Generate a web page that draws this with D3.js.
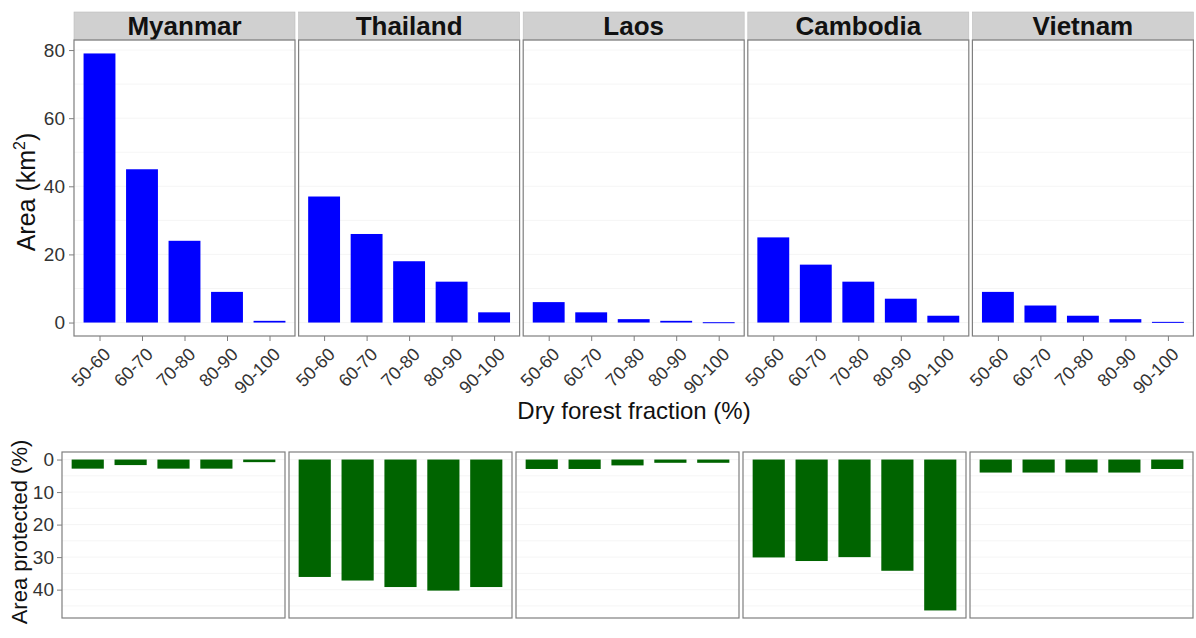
<!DOCTYPE html>
<html>
<head>
<meta charset="utf-8">
<script src="https://cdn.jsdelivr.net/npm/d3@7"></script>
<style>
  body { margin: 0; background: #fff; }
  text { font-family: Arial, "Liberation Sans", sans-serif; }
</style>
</head>
<body>
<div id="chart"></div>
<script>
const countries = ['Myanmar', 'Thailand', 'Laos', 'Cambodia', 'Vietnam'];
const fractions = ['50-60', '60-70', '70-80', '80-90', '90-100'];

// area (km2) per country, by dry forest fraction class
const areaMyanmar = [79, 45, 24, 9, 0.5];
const areaThailand = [37, 26, 18, 12, 3];
const areaLaos = [6, 3, 1, 0.5, 0.1];
const areaCambodia = [25, 17, 12, 7, 2];
const areaVietnam = [9, 5, 2, 1, 0.2];

// share of area protected (%)
const protMyanmar = [2.8, 1.7, 2.8, 2.8, 0.8];
const protThailand = [36.1, 37.2, 39.2, 40.3, 39.2];
const protLaos = [2.9, 2.9, 1.8, 1.0, 1.0];
const protCambodia = [30.1, 31.2, 30, 34.2, 46.4];
const protVietnam = [4, 4, 4, 4, 2.9];

const areaTicks = [0, 20, 40, 60, 80];
const protTicks = [0, 10, 20, 30, 40];

const areaData = [areaMyanmar, areaThailand, areaLaos, areaCambodia, areaVietnam];
const protData = [protMyanmar, protThailand, protLaos, protCambodia, protVietnam];

const W = 1196, H = 638;
const cfg = {
  top: { left: 74, panelW: 221, gap: 3.6, y0: 40, y1: 336, stripTop: 12 },
  bottom: { left: 62, panelW: 223, gap: 4, y0: 452, y1: 618 },
  blue: '#0000ff',
  green: '#006400',
  border: '#7f7f7f',
  grid: '#f2f2f2',
  tick: '#333333',
};

const svg = d3.select('#chart').append('svg').attr('width', W).attr('height', H);

function bandScale(x0, w) {
  // ggplot discrete axis: 0.6 expansion on each side, bar width 0.75
  const unit = w / (fractions.length + 0.2);
  return d3.scalePoint().domain(fractions).range([x0 + 0.6 * unit, x0 + w - 0.6 * unit]);
}

// ---------- top row ----------
const yMaxTop = d3.max(areaData.flat());
const yTop = d3.scaleLinear()
  .domain([-0.05 * yMaxTop, yMaxTop * 1.05])
  .range([cfg.top.y1, cfg.top.y0]);

countries.forEach((c, i) => {
  const x0 = cfg.top.left + i * (cfg.top.panelW + cfg.top.gap);
  const w = cfg.top.panelW;
  const x = bandScale(x0, w);
  const unit = w / (fractions.length + 0.2);
  const bw = 0.75 * unit;
  const g = svg.append('g');

  // strip
  g.append('rect').attr('x', x0).attr('y', cfg.top.stripTop)
    .attr('width', w).attr('height', cfg.top.y0 - cfg.top.stripTop)
    .attr('fill', '#d0d0d0').attr('stroke', '#bdbdbd').attr('stroke-width', 0.6);
  g.append('text').attr('x', x0 + w / 2).attr('y', cfg.top.y0 - 5)
    .attr('text-anchor', 'middle').attr('font-size', 26).attr('font-weight', 'bold')
    .attr('fill', '#111').text(c);

  // faint grid
  const gridVals = d3.range(0, 81, 10);
  g.selectAll('line.grid').data(gridVals).join('line')
    .attr('x1', x0).attr('x2', x0 + w)
    .attr('y1', (d) => yTop(d)).attr('y2', (d) => yTop(d))
    .attr('stroke', cfg.grid).attr('stroke-width', 0.8);

  g.selectAll('rect.bar').data(areaData[i]).join('rect')
    .attr('x', (d, j) => x(fractions[j]) - bw / 2)
    .attr('width', bw)
    .attr('y', (d) => yTop(d))
    .attr('height', (d) => Math.max(yTop(0) - yTop(d), 1))
    .attr('fill', cfg.blue);

  g.append('rect').attr('x', x0).attr('y', cfg.top.y0)
    .attr('width', w).attr('height', cfg.top.y1 - cfg.top.y0)
    .attr('fill', 'none').attr('stroke', cfg.border).attr('stroke-width', 1.2);

  // x axis
  const xa = g.append('g').attr('transform', `translate(0,${cfg.top.y1})`)
    .call(d3.axisBottom(x).tickSize(5).tickPadding(4));
  xa.select('.domain').remove();
  xa.selectAll('line').attr('stroke', cfg.border);
  xa.selectAll('text')
    .attr('font-size', 18).attr('fill', cfg.tick)
    .attr('text-anchor', 'end')
    .attr('x', 0).attr('y', 0)
    .attr('dy', '0.35em')
    .attr('transform', 'translate(7,15) rotate(-45)');

  if (i === 0) {
    const ya = g.append('g').attr('transform', `translate(${x0},0)`)
      .call(d3.axisLeft(yTop).tickValues(areaTicks).tickSize(5).tickPadding(4));
    ya.select('.domain').remove();
    ya.selectAll('line').attr('stroke', cfg.border);
    ya.selectAll('text').attr('font-size', 19).attr('fill', cfg.tick);
  }
});

// y title top
const yTitle = svg.append('text')
  .attr('transform', `translate(35,${(cfg.top.y0 + cfg.top.y1) / 2 + 4}) rotate(-90)`)
  .attr('text-anchor', 'middle').attr('font-size', 25).attr('fill', '#111');
yTitle.append('tspan').text('Area (km');
yTitle.append('tspan').attr('font-size', 16).attr('dy', -10).text('2');
yTitle.append('tspan').attr('dy', 10).text(')');

svg.append('text').attr('x', 634).attr('y', 419)
  .attr('text-anchor', 'middle').attr('font-size', 24).attr('fill', '#111')
  .text('Dry forest fraction (%)');

// ---------- bottom row ----------
const yMaxBot = d3.max(protData.flat());
const yBot = d3.scaleLinear()
  .domain([-0.05 * yMaxBot, yMaxBot * 1.05])
  .range([cfg.bottom.y0, cfg.bottom.y1]);

countries.forEach((c, i) => {
  const x0 = cfg.bottom.left + i * (cfg.bottom.panelW + cfg.bottom.gap);
  const w = cfg.bottom.panelW;
  const x = bandScale(x0, w);
  const unit = w / (fractions.length + 0.2);
  const bw = 0.75 * unit;
  const g = svg.append('g');

  const gridVals = d3.range(0, 46, 5);
  g.selectAll('line.grid').data(gridVals).join('line')
    .attr('x1', x0).attr('x2', x0 + w)
    .attr('y1', (d) => yBot(d)).attr('y2', (d) => yBot(d))
    .attr('stroke', cfg.grid).attr('stroke-width', 0.8);

  g.selectAll('rect.bar').data(protData[i]).join('rect')
    .attr('x', (d, j) => x(fractions[j]) - bw / 2)
    .attr('width', bw)
    .attr('y', yBot(0))
    .attr('height', (d) => Math.max(yBot(d) - yBot(0), 1))
    .attr('fill', cfg.green);

  g.append('rect').attr('x', x0).attr('y', cfg.bottom.y0)
    .attr('width', w).attr('height', cfg.bottom.y1 - cfg.bottom.y0)
    .attr('fill', 'none').attr('stroke', cfg.border).attr('stroke-width', 1.2);

  if (i === 0) {
    const ya = g.append('g').attr('transform', `translate(${x0},0)`)
      .call(d3.axisLeft(yBot).tickValues(protTicks).tickSize(5).tickPadding(3));
    ya.select('.domain').remove();
    ya.selectAll('line').attr('stroke', cfg.border);
    ya.selectAll('text').attr('font-size', 19).attr('fill', cfg.tick);
  }
});

svg.append('text')
  .attr('transform', `translate(27,532) rotate(-90)`)
  .attr('text-anchor', 'middle').attr('font-size', 22).attr('fill', '#111')
  .text('Area protected (%)');
</script>
</body>
</html>
